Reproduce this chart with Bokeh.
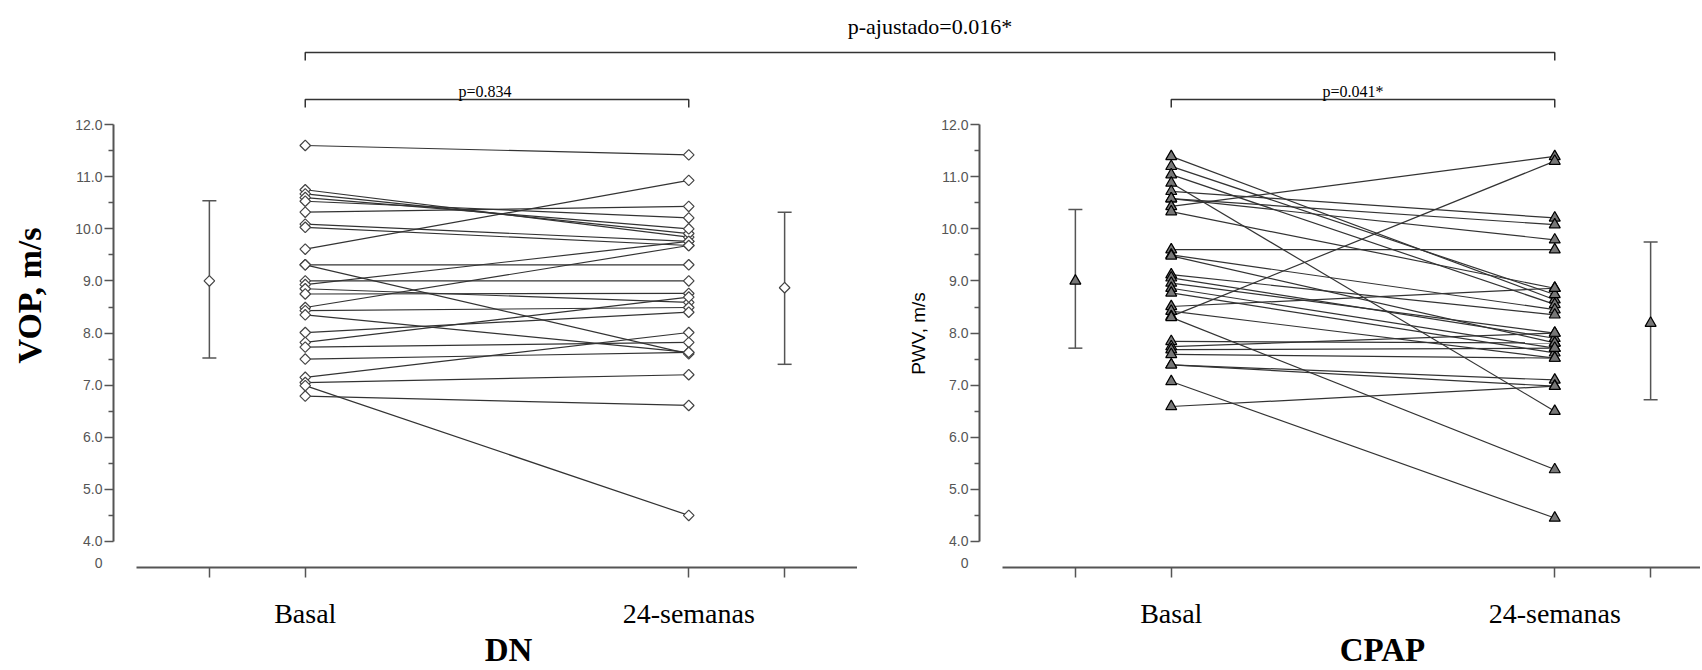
import numpy as np
from bokeh.plotting import figure
from bokeh.models import (ColumnDataSource, Range1d, FixedTicker, Label, Whisker,
                          TeeHead, PrintfTickFormatter, LinearAxis)
from bokeh.layouts import column, row
from bokeh.embed import file_html
from bokeh.resources import INLINE
from bokeh.core.properties import value

# ---------------- data ----------------
time_labels = ["Basal", "24-semanas"]
group_labels = ["DN", "CPAP"]
y_titles = ["VOP, m/s", "PWV, m/s"]
y_ticks = [4.0, 5.0, 6.0, 7.0, 8.0, 9.0, 10.0, 11.0, 12.0]
y_minor = [4.5, 5.5, 6.5, 7.5, 8.5, 9.5, 10.5, 11.5]
p_texts = ["p=0.834", "p=0.041*", "p-ajustado=0.016*"]

dn_basal = [11.6, 10.75, 10.67, 10.6, 10.53, 10.32, 10.09, 10.03, 9.61, 9.31, 9.31, 9.0, 8.93,
            8.85, 8.75, 8.49, 8.43, 8.35, 8.01, 7.82, 7.73, 7.5, 7.15, 7.05, 6.99, 6.79]
dn_24w = [11.42, 9.84, 9.91, 10.0, 10.21, 10.43, 9.76, 9.68, 10.93, 7.6, 9.31, 9.0, 9.76,
          8.59, 8.76, 9.68, 8.49, 7.63, 8.4, 8.69, 7.82, 7.63, 8.01, 7.2, 4.5, 6.61]

cpap_basal = [11.39, 11.2, 11.04, 10.88, 10.72, 10.58, 10.58, 10.43, 10.33, 9.6, 9.5, 9.48,
              9.12, 9.06, 8.96, 8.86, 8.77, 8.51, 8.42, 8.32, 8.3, 7.84, 7.74, 7.68, 7.59,
              7.39, 7.39, 7.07, 6.59]
cpap_24w = [8.64, 8.74, 8.55, 6.5, 10.21, 10.08, 9.79, 11.39, 8.86, 9.6, 8.45, 7.81,
            8.35, 7.9, 8.0, 7.71, 7.62, 8.86, 7.52, 11.3, 5.38, 7.81, 8.0, 7.71, 7.52,
            7.1, 6.98, 4.45, 6.98]

dn_mean = [9.0, 8.87]
dn_lo = [7.52, 7.4]
dn_hi = [10.54, 10.32]
cpap_mean = [9.0, 8.19]
cpap_lo = [7.71, 6.72]
cpap_hi = [10.37, 9.75]

# ---------------- layout constants (page pixels) ----------------
PAGE = 0
TOP_BOTTOM = 110          # top annotation strip: page y 0..110
FRAME_BOT = 567           # page y of the x axis (value Y_LO)
PAGE_BOTTOM = 666
PXU = 383.5               # px per category unit
PXV = 52.1                # px per m/s
X_LO = 0.5
Y_LO = 3.5
P1_FL, P1_FR = 113, 857   # page x of y axis / right end of panel 1
P2_FL, P2_FR = 979, 1700

X_POS = [1.0, 2.0]
MEAN_POS = [0.75, 2.25]

AX_COL = "#555555"
LINE_COL = "#333333"


def page_x(frame_left, xv):
    return frame_left + (xv - X_LO) * PXU


def xdat(frame_left, px):
    return X_LO + (px - frame_left) / PXU


def ydat(py):
    return Y_LO + (FRAME_BOT - py) / PXV


def make_panel(basal, w24, mean, lo, hi, marker, fl, fr, fig_left, ytitle, ytitle_xy,
               gtitle, gtitle_x, zero_right, msize, mline, mfill):
    cw = fr - fig_left
    ch = PAGE_BOTTOM - TOP_BOTTOM
    p = figure(frame_width=cw, frame_height=ch,
               x_range=Range1d(xdat(fl, fig_left), xdat(fl, fr)),
               y_range=Range1d(ydat(PAGE_BOTTOM), ydat(TOP_BOTTOM)),
               min_border_left=0, min_border_right=0, min_border_top=0, min_border_bottom=0,
               x_axis_location=None, y_axis_location=None,
               toolbar_location=None, output_backend="svg")
    p.grid.visible = False
    p.outline_line_color = None
    p.background_fill_color = "white"
    p.border_fill_color = "white"

    ya = LinearAxis(fixed_location=X_LO)
    ya.ticker = FixedTicker(ticks=y_ticks, minor_ticks=y_minor)
    ya.formatter = PrintfTickFormatter(format="%.1f")
    ya.bounds = (y_ticks[0], y_ticks[-1])
    ya.axis_line_color = AX_COL
    ya.axis_line_width = 2
    ya.major_tick_line_color = AX_COL
    ya.major_tick_line_width = 1.5
    ya.minor_tick_line_color = AX_COL
    ya.minor_tick_line_width = 1.5
    ya.major_tick_out = 9
    ya.major_tick_in = 0
    ya.minor_tick_out = 5
    ya.minor_tick_in = 0
    ya.major_label_standoff = 2
    ya.major_label_text_font = "Liberation Sans"
    ya.major_label_text_font_size = "14px"
    ya.major_label_text_color = AX_COL
    p.add_layout(ya, "left")

    xa = LinearAxis(fixed_location=Y_LO)
    xticks = [MEAN_POS[0], X_POS[0], X_POS[1], MEAN_POS[1]]
    xa.ticker = FixedTicker(ticks=xticks, minor_ticks=[])
    xa.major_label_overrides = {MEAN_POS[0]: " ", X_POS[0]: time_labels[0],
                                X_POS[1]: time_labels[1], MEAN_POS[1]: " "}
    xa.bounds = (xdat(fl, fl + 23), xdat(fl, fr))
    xa.axis_line_color = AX_COL
    xa.axis_line_width = 2
    xa.major_tick_line_color = AX_COL
    xa.major_tick_line_width = 1.5
    xa.major_tick_out = 10
    xa.major_tick_in = 0
    xa.minor_tick_out = 0
    xa.minor_tick_in = 0
    xa.major_label_standoff = 20
    xa.major_label_text_font = "Liberation Serif"
    xa.major_label_text_font_size = "28px"
    xa.major_label_text_color = "black"
    p.add_layout(xa, "below")

    n = len(basal)
    src = ColumnDataSource(dict(x0=[X_POS[0]] * n, x1=[X_POS[1]] * n, y0=basal, y1=w24))
    p.segment("x0", "y0", "x1", "y1", source=src, line_color=LINE_COL, line_width=1.2)

    angle = np.pi / 4 if marker == "square" else 0.0
    p.scatter([X_POS[0]] * n, basal, marker=marker, size=msize, angle=angle,
              line_color=mline, fill_color=mfill, line_width=1.2)
    p.scatter([X_POS[1]] * n, w24, marker=marker, size=msize, angle=angle,
              line_color=mline, fill_color=mfill, line_width=1.2)

    wsrc = ColumnDataSource(dict(x=MEAN_POS, lo=lo, hi=hi))
    wh = Whisker(source=wsrc, base="x", lower="lo", upper="hi", dimension="height",
                 line_color=AX_COL, line_width=1.5,
                 upper_head=TeeHead(size=14, line_color=AX_COL, line_width=1.5),
                 lower_head=TeeHead(size=14, line_color=AX_COL, line_width=1.5))
    p.add_layout(wh)
    p.scatter(MEAN_POS, mean, marker=marker, size=msize, angle=angle,
              line_color=mline, fill_color=mfill, line_width=1.2)

    # broken-axis "0"
    p.add_layout(Label(x=xdat(fl, zero_right), y=ydat(562), text="0", text_align="right",
                       text_baseline="middle", text_font="Liberation Sans",
                       text_font_size="14px", text_color=AX_COL))
    # y title
    tx, ty, tfont, tsize, tstyle = ytitle_xy
    p.add_layout(Label(x=xdat(fl, tx), y=ydat(ty), text=ytitle, angle=np.pi / 2,
                       text_align="center", text_baseline="middle", text_font=tfont,
                       text_font_size=tsize, text_font_style=tstyle, text_color="black"))
    # group title
    p.add_layout(Label(x=xdat(fl, gtitle_x), y=ydat(649), text=gtitle, text_align="center",
                       text_baseline="middle", text_font="Liberation Serif",
                       text_font_size="33px", text_font_style="bold", text_color="black"))
    return p


p1 = make_panel(dn_basal, dn_24w, dn_mean, dn_lo, dn_hi, "square", P1_FL, P1_FR, PAGE,
                y_titles[0], (29, 295, "Liberation Serif", "34px", "bold"),
                group_labels[0], 508, 102, 7.5, "#444444", "white")
p2 = make_panel(cpap_basal, cpap_24w, cpap_mean, cpap_lo, cpap_hi, "triangle", P2_FL, P2_FR,
                P1_FR, y_titles[1], (918, 333, "Liberation Sans", "19px", "normal"),
                group_labels[1], 1382, 968, 11, "black", "#777777")

# ---------------- top strip with comparison brackets ----------------
W = P2_FR - PAGE
top = figure(frame_width=W, frame_height=TOP_BOTTOM - PAGE,
             x_range=Range1d(PAGE, P2_FR), y_range=Range1d(TOP_BOTTOM, PAGE),
             min_border_left=0, min_border_right=0, min_border_top=0, min_border_bottom=0,
             x_axis_location=None, y_axis_location=None,
             toolbar_location=None, output_backend="svg")
top.grid.visible = False
top.outline_line_color = None

brackets = [
    (page_x(P1_FL, X_POS[0]), page_x(P1_FL, X_POS[1]), 99, 107, p_texts[0], "16px", 91, -12),
    (page_x(P2_FL, X_POS[0]), page_x(P2_FL, X_POS[1]), 99, 107, p_texts[1], "16px", 91, -10),
    (page_x(P1_FL, X_POS[0]), page_x(P2_FL, X_POS[1]), 52, 60, p_texts[2], "22px", 26, 0),
]
bx = [[b[0], b[0], b[1], b[1]] for b in brackets]
by = [[b[3], b[2], b[2], b[3]] for b in brackets]
top.multi_line(bx, by, line_color=LINE_COL, line_width=1.5)
for b in brackets:
    top.text(x=[(b[0] + b[1]) / 2 + b[7]], y=[b[6]], text=[b[4]], text_align="center",
             text_baseline="middle", text_font=value("Liberation Serif"),
             text_font_size=b[5], text_color="black")

layout = column(top, row(p1, p2, spacing=0), spacing=0)
open("out.html", "w").write(file_html(layout, INLINE))
